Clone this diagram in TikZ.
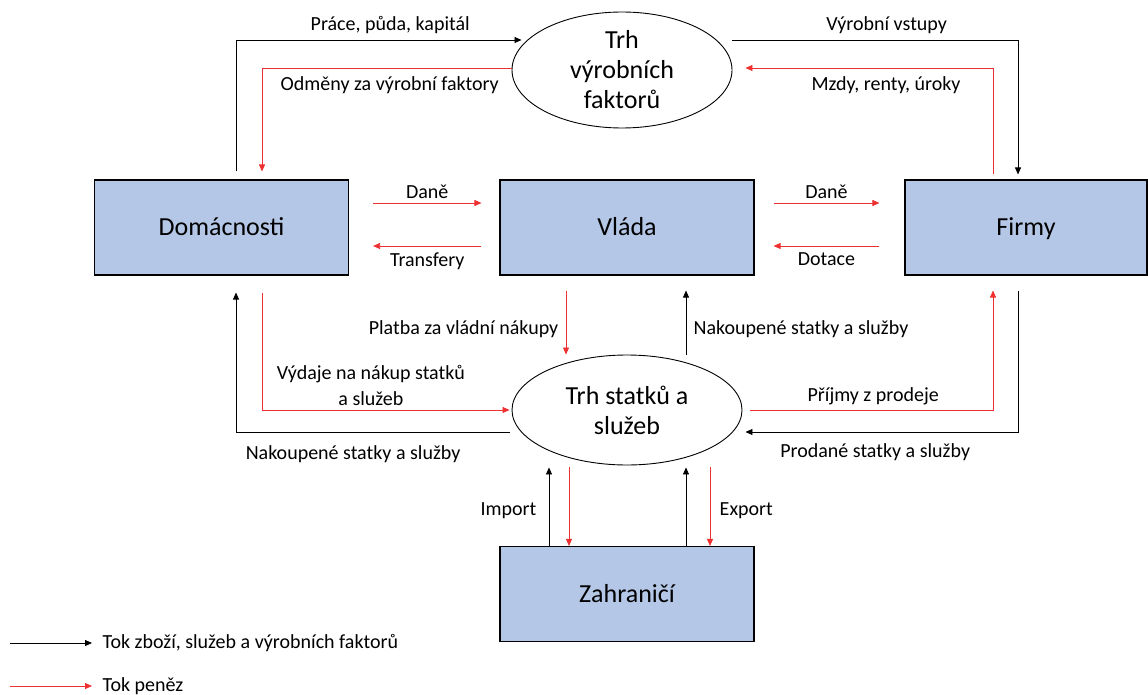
\documentclass[tikz,border=0pt]{standalone}
\usepackage{fontspec}
\setmainfont{Carlito}
\usepackage{xcolor}
\usetikzlibrary{shapes.geometric,arrows.meta}
\definecolor{boxblue}{RGB}{180,199,231}
\definecolor{moneyred}{RGB}{238,48,48}
\tikzstyle{sector}=[
        draw = black,
        line width = 1.1pt,
        fill = boxblue,
        minimum width = 254pt,
        minimum height = 95pt,
        text height = 18pt,
        text depth = 1pt,
        font = \fontsize{26}{30}\selectfont
    ]
\tikzstyle{market}=[
    draw = black,
    line width = 0.9pt,
    fill = white,
    ellipse,
    inner sep = 0pt,
    align = center,
    font = \fontsize{26}{30}\selectfont
]

\begin{document}
\begin{tikzpicture}[x=1pt, y=-1pt,
        goods/.style = {draw=black, line width=0.8pt, -{Triangle[length=7pt,width=6pt]}},
        money/.style = {draw=moneyred, line width=0.8pt, -{Triangle[length=7pt,width=6pt]}},
        lbl/.style = {font=\fontsize{20}{26}\selectfont, text=black, align=center}]
        \useasboundingbox (0,0) rectangle (1148,695);

        \node[sector] (dom) at (221.5,227.5) {Domácnosti};
        \node[sector] (vlada) at (627,227.5) {Vláda};
        \node[sector, minimum width = 242pt] (firmy) at (1026,227.5) {Firmy};
        \node[sector] (zahr) at (627,594) {Zahraničí};
        \node[market, minimum width = 220pt, minimum height = 116pt] (trhvf) at (622,70) {Trh\\výrobních\\faktorů};
        \node[market, minimum width = 230pt, minimum height = 110pt] (trhss) at (627,410) {Trh statků a\\služeb};

        % trh vyrobnich faktoru
        \draw[goods] ([xshift=14.5pt,yshift=8pt]dom.north) |- ([xshift=10pt,yshift=30pt]trhvf.west)
            node (lprace) [lbl, pos=0.77, above=3pt] {Práce, půda, kapitál};
        \draw[money] ([yshift=2pt]trhvf.west) -| ([xshift=40.5pt,yshift=8pt]dom.north)
            node (lodmeny) [lbl, pos=0.244, below=5pt] {Odměny za výrobní faktory};
        \draw[goods] ([yshift=30pt]trhvf.east) -| ([xshift=-8pt,yshift=5pt]firmy.north)
            node (lvstupy) [lbl, pos=0.27, above=3pt] {Výrobní vstupy};
        \draw[money] ([xshift=-33pt,yshift=5pt]firmy.north) |- ([xshift=13pt,yshift=2pt]trhvf.east)
            node (lmzdy) [lbl, pos=0.716, below=5pt] {Mzdy, renty, úroky};

        % vlada
        \draw[money] ([xshift=24pt,yshift=24.5pt]dom.east) -- ([xshift=-18pt,yshift=24.5pt]vlada.west)
            node (ldane1) [lbl, midway, above=1pt] {Daně};
        \draw[money] ([xshift=-18pt,yshift=-18.5pt]vlada.west) -- ([xshift=24pt,yshift=-18.5pt]dom.east)
            node (ltransfery) [lbl, midway, below=3pt] {Transfery};
        \draw[money] ([xshift=19pt,yshift=24.5pt]vlada.east) -- ([xshift=-25pt,yshift=24.5pt]firmy.west)
            node (ldane2) [lbl, midway, above=1pt] {Daně};
        \draw[money] ([xshift=-25pt,yshift=-18.5pt]firmy.west) -- ([xshift=19pt,yshift=-18.5pt]vlada.east)
            node (ldotace) [lbl, midway, below=3pt] {Dotace};
        \draw[money] ([xshift=-61pt,yshift=-15pt]vlada.south) -- ([xshift=-61pt]trhss.north)
            node (lplatba) [lbl, pos=0.6, left=4pt] {Platba za vládní nákupy};
        \draw[goods] ([xshift=59pt]trhss.north) -- ([xshift=59pt,yshift=-15pt]vlada.south)
            node (lnakup1) [lbl, pos=0.4, right=4pt] {Nakoupené statky a služby};

        % trh statku a sluzeb
        \draw[money] ([xshift=40.5pt,yshift=-17pt]dom.south) |- ([xshift=-2pt]trhss.west)
            node (lvydaje) [lbl, pos=0.72, above=1pt] {Výdaje na nákup statků\\a služeb};
        \draw[goods] ([xshift=-2pt,yshift=-22pt]trhss.west) -| ([xshift=14.5pt,yshift=-17pt]dom.south)
            node (lnakup2) [lbl, pos=0.286, below=10pt] {Nakoupené statky a služby};
        \draw[money] ([xshift=8pt]trhss.east) -| ([xshift=-33pt,yshift=-15pt]firmy.south)
            node (lprijmy) [lbl, pos=0.253, above=1pt] {Příjmy z prodeje};
        \draw[goods] ([xshift=-8pt,yshift=-15pt]firmy.south) |- ([xshift=3pt,yshift=-22pt]trhss.east)
            node (lprodane) [lbl, pos=0.762, below=8pt] {Prodané statky a služby};

        % zahranici
        \draw[goods] ([xshift=-78pt]zahr.north) -- ([xshift=-78pt,yshift=-2pt]trhss.south)
            node (limport) [lbl, pos=0.45, left=9pt] {Import};
        \draw[money] ([xshift=-58pt,yshift=-2pt]trhss.south) -- ([xshift=-58pt]zahr.north);
        \draw[goods] ([xshift=59pt]zahr.north) -- ([xshift=59pt,yshift=-2pt]trhss.south);
        \draw[money] ([xshift=83pt,yshift=-2pt]trhss.south) -- ([xshift=83pt]zahr.north)
            node (lexport) [lbl, pos=0.55, right=6pt] {Export};

        % legenda
        \coordinate (leg1) at (10,643);
        \coordinate (leg2) at (10,686);
        \node (tgoods) [lbl, right] at (99,643) {Tok zboží, služeb a výrobních faktorů};
        \node (tmoney) [lbl, right] at (99,686) {Tok peněz};
        \draw[goods] (leg1) -- ([xshift=-7pt]tgoods.west);
        \draw[money] (leg2) -- ([xshift=-7pt]tmoney.west);

    \end{tikzpicture}
\end{document}
